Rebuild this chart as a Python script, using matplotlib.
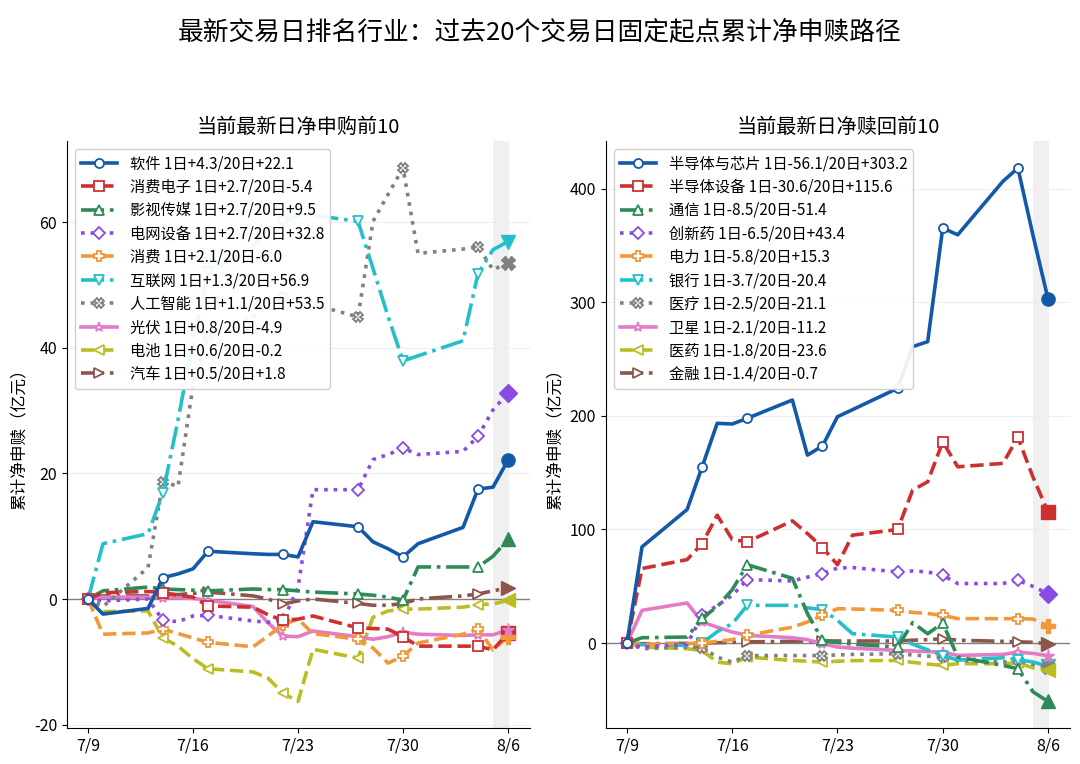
import numpy as np
import matplotlib
matplotlib.use('Agg')
import matplotlib.pyplot as plt
import matplotlib.dates as mdates
from matplotlib.lines import Line2D
from matplotlib.ticker import FuncFormatter, MultipleLocator

plt.rcParams['font.family'] = ['Noto Sans CJK SC', 'DejaVu Sans']
plt.rcParams['axes.unicode_minus'] = False

# 交易日（21个点，起点为0）
dates = np.array(['2025-07-09', '2025-07-10', '2025-07-13', '2025-07-14', '2025-07-15',
                  '2025-07-16', '2025-07-17', '2025-07-20', '2025-07-21', '2025-07-22',
                  '2025-07-23', '2025-07-24', '2025-07-27', '2025-07-28', '2025-07-29',
                  '2025-07-30', '2025-07-31', '2025-08-03', '2025-08-04', '2025-08-05',
                  '2025-08-06'], dtype='datetime64[D]')

# 左图：净申购前10
left_names = ['软件', '消费电子', '影视传媒', '电网设备', '消费',
              '互联网', '人工智能', '光伏', '电池', '汽车']
left_1d = [4.3, 2.7, 2.7, 2.7, 2.1, 1.3, 1.1, 0.8, 0.6, 0.5]
software = [0, -2.4, -1.5, 3.4, 4.0, 4.8, 7.6, 7.2, 7.1, 7.1, 6.7, 12.3, 11.5, 9.1, 8.0, 6.7, 8.8, 11.4, 17.5, 17.8, 22.1]
cons_elec = [0, 1.0, 1.2, 1.0, 0.6, 0.3, -1.1, -1.3, -2.5, -3.4, -3.2, -2.7, -4.6, -4.7, -4.8, -6.0, -7.5, -7.5, -7.5, -8.1, -5.4]
media = [0, 1.3, 1.9, 1.6, 1.5, 1.4, 1.3, 1.6, 1.5, 1.5, 1.3, 1.1, 0.8, 0.6, 0.3, -0.2, 5.1, 5.1, 5.1, 6.8, 9.5]
grid_eq = [0, -0.3, 0.0, -3.4, -3.6, -2.7, -2.6, -3.5, -3.7, -3.4, 1.8, 17.4, 17.4, 22.2, 23.0, 24.0, 23.0, 23.5, 25.9, 30.1, 32.8]
consumer = [0, -5.6, -5.4, -4.8, -5.5, -6.2, -6.9, -7.6, -5.9, -4.1, -3.2, -5.5, -6.4, -7.8, -10.2, -9.1, -7.0, -5.6, -4.8, -8.1, -6.0]
internet = [0, 8.8, 10.4, 16.9, 28.5, 41.0, 52.0, 56.0, 59.0, 60.0, 61.0, 61.1, 60.1, 52.6, 45.0, 37.9, 38.7, 41.1, 51.8, 55.6, 56.9]
ai = [0, -1.2, 5.0, 18.7, 17.9, 34.0, 42.0, 45.0, 47.0, 48.0, 47.5, 46.9, 44.9, 60.1, 64.4, 68.6, 55.0, 55.7, 56.1, 52.4, 53.5]
pv = [0, 0.3, 0.3, 0.2, 0.2, 0.1, -0.2, -1.2, -3.8, -5.9, -6.0, -5.1, -6.0, -6.4, -6.0, -5.3, -5.6, -5.8, -5.7, -5.7, -4.9]
battery = [0, -2.0, -1.9, -6.2, -7.5, -9.5, -11.1, -11.6, -12.6, -15.0, -16.3, -8.0, -9.4, -2.9, -1.9, -1.6, -1.6, -1.3, -0.9, -0.8, -0.2]
auto = [0, 0.5, 0.5, 0.8, 0.7, 0.9, 1.1, 0.5, 0.0, -0.8, -0.3, 0.0, -0.7, -1.0, -1.0, -0.7, 0.0, 0.5, 0.8, 1.3, 1.8]
left_series = [software, cons_elec, media, grid_eq, consumer, internet, ai, pv, battery, auto]

# 右图：净赎回前10
right_names = ['半导体与芯片', '半导体设备', '通信', '创新药', '电力',
               '银行', '医疗', '卫星', '医药', '金融']
right_1d = [-56.1, -30.6, -8.5, -6.5, -5.8, -3.7, -2.5, -2.1, -1.8, -1.4]
chips = [0, 84.7, 117.6, 155.2, 193.5, 192.9, 197.9, 214.0, 165.5, 173.5, 199.3, 205.5, 224.3, 261.0, 265.4, 365.4, 359.5, 406.5, 418.3, 359.3, 303.2]
semi_eq = [0, 65.6, 73.5, 87.6, 112.6, 91.2, 89.1, 107.6, 96.5, 84.1, 69.0, 95.0, 100.0, 134.7, 142.0, 177.2, 155.2, 158.2, 181.1, 146.2, 115.6]
telecom = [0, 4.7, 5.3, 22.0, 32.0, 47.0, 69.0, 57.0, 26.0, 2.4, 0.5, -1.0, -3.5, 18.0, 8.2, 17.6, -12.3, -19.7, -22.6, -42.9, -51.4]
innov_drug = [0, -3.5, -1.0, 24.4, 33.0, 42.0, 55.9, 54.7, 58.0, 61.2, 66.0, 66.5, 62.6, 63.5, 62.6, 59.7, 52.4, 52.4, 55.3, 49.9, 43.4]
power = [0, -1.0, -0.5, 0.0, 1.5, 3.0, 6.8, 14.0, 18.5, 24.4, 30.3, 30.0, 28.8, 27.0, 26.0, 24.4, 21.5, 21.5, 21.5, 21.1, 15.3]
bank = [0, -1.5, -2.0, 0.0, 10.0, 17.0, 33.2, 33.2, 31.0, 29.4, 20.0, 8.2, 5.3, -1.0, -6.0, -11.0, -15.0, -13.0, -14.5, -16.7, -20.4]
medical = [0, -5.0, -3.5, -4.0, -12.4, -16.8, -11.0, -11.0, -11.0, -11.0, -10.5, -10.0, -9.4, -10.5, -11.5, -12.4, -15.5, -16.8, -15.3, -18.6, -21.1]
satellite = [0, 28.8, 35.3, 18.5, 14.0, 9.7, 6.8, 4.7, 3.0, -0.6, -3.5, -4.5, -6.5, -7.0, -7.5, -8.0, -10.9, -10.0, -8.0, -9.1, -11.2]
pharma = [0, -3.5, -5.0, -6.5, -16.8, -18.2, -12.4, -15.3, -16.0, -16.8, -16.0, -15.5, -15.3, -17.0, -18.5, -19.7, -18.2, -18.2, -17.5, -21.8, -23.6]
finance = [0, -0.6, -0.3, 0.0, 0.3, 0.6, 1.0, 1.5, 1.8, 2.0, 1.8, 1.8, 1.8, 2.5, 3.0, 3.8, 2.5, 1.5, 1.0, 0.7, -0.7]
right_series = [chips, semi_eq, telecom, innov_drug, power, bank, medical, satellite, pharma, finance]

colors = ['#1459a8', '#cc3030', '#2e8b57', '#8a4be2', '#f0983a',
          '#25bfc9', '#808080', '#e37bc6', '#bcbd22', '#8c564b']
styles = ['-', '--', '-.', ':', '--', '-.', ':', '-', '--', '-.']
markers = ['o', 's', '^', 'D', 'P', 'v', 'X', '*', '<', '>']


def draw(ax, names, one_day, series, title):
    handles = []
    mk_idx = list(range(0, len(dates) - 1, 3))
    for i, (name, ys) in enumerate(zip(names, series)):
        c = colors[i]
        ax.plot(dates, ys, color=c, ls=styles[i], lw=2.6, marker=markers[i],
                ms=6.5, mfc='white', mec=c, mew=1.3, markevery=mk_idx, zorder=3 + (10 - i) * 0.1)
        ax.plot(dates[-1:], ys[-1:], ls='none', marker=markers[i], ms=9.5, color=c, zorder=4)
        lab = f'{name} 1日{one_day[i]:+.1f}/20日{ys[-1]:+.1f}'
        handles.append(Line2D([], [], color=c, ls=styles[i], lw=2.6, marker=markers[i],
                              ms=6.5, mfc='white', mec=c, mew=1.3, label=lab))
    x0 = mdates.date2num(dates[-2])
    x1 = mdates.date2num(dates[-1]) + 0.08
    ax.axvspan(x0, x1, color='#e6e6e6', alpha=0.6, lw=0, zorder=0)
    ax.axhline(0, color='#808080', lw=1.0, zorder=2)
    ax.grid(axis='y', color='#eeeeee', lw=0.8, zorder=0)
    ax.set_axisbelow(True)
    ax.spines['top'].set_visible(False)
    ax.spines['right'].set_visible(False)
    ax.xaxis.set_major_locator(mdates.WeekdayLocator(byweekday=mdates.WE))
    ax.xaxis.set_major_formatter(FuncFormatter(
        lambda x, p: f'{mdates.num2date(x).month}/{mdates.num2date(x).day}'))
    ax.tick_params(labelsize=11.5)
    ax.set_title(title, fontsize=14.5, fontweight='medium')
    ax.set_ylabel('累计净申赎（亿元）', fontsize=12)
    ax.legend(handles=handles, loc='upper left', fontsize=11, framealpha=0.92,
              edgecolor='#cccccc', borderaxespad=0.5, labelspacing=0.42,
              handlelength=2.4)


fig = plt.figure(figsize=(10.8, 7.64), dpi=100)
ax1 = fig.add_axes([0.062, 0.047, 0.429, 0.768])
ax2 = fig.add_axes([0.561, 0.047, 0.430, 0.768])
draw(ax1, left_names, left_1d, left_series, '当前最新日净申购前10')
draw(ax2, right_names, right_1d, right_series, '当前最新日净赎回前10')
ax1.yaxis.set_major_locator(MultipleLocator(20))
ax2.yaxis.set_major_locator(MultipleLocator(100))
fig.suptitle('最新交易日排名行业：过去20个交易日固定起点累计净申赎路径',
             fontsize=18.5, fontweight='medium', y=0.975)
fig.savefig('out.png', dpi=100)
